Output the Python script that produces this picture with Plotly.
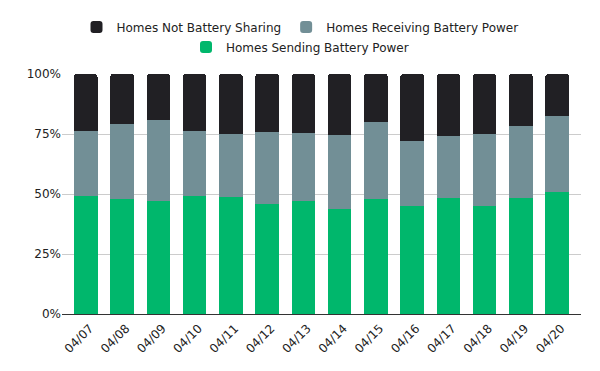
import plotly.graph_objects as go

dates = ["04/07", "04/08", "04/09", "04/10", "04/11", "04/12", "04/13",
         "04/14", "04/15", "04/16", "04/17", "04/18", "04/19", "04/20"]
sending = [49.3, 47.9, 47.1, 49.3, 48.7, 45.8, 47.1, 43.8, 47.9, 45.1, 48.5, 45.1, 48.5, 50.8]
receiving = [27.0, 31.3, 33.7, 27.0, 26.3, 30.0, 28.3, 30.8, 32.1, 27.0, 25.7, 29.9, 29.8, 31.7]
not_sharing = [23.7, 20.8, 19.2, 23.7, 25.0, 24.2, 24.6, 25.4, 20.0, 27.9, 25.8, 25.0, 21.7, 17.5]

fig = go.Figure()
fig.add_trace(go.Bar(x=dates, y=sending, name="Homes Sending Battery Power",
                     marker=dict(color="#00b76c", line=dict(width=0)), legend="legend2"))
fig.add_trace(go.Bar(x=dates, y=receiving, name="Homes Receiving Battery Power",
                     marker=dict(color="#728f96", line=dict(width=0)), legend="legend"))
fig.add_trace(go.Bar(x=dates, y=not_sharing, name="Homes Not Battery Sharing",
                     marker=dict(color="#212024", line=dict(width=0)), legend="legend"))

fig.update_layout(
    width=600, height=371,
    barmode="stack", bargap=0.35, barcornerradius=3,
    margin=dict(l=62, r=19, t=74, b=57, autoexpand=False),
    paper_bgcolor="white", plot_bgcolor="white",
    font=dict(family="DejaVu Sans", size=12, color="#222222"),
    legend=dict(orientation="h", xref="container", x=0.5, xanchor="center",
                yref="container", y=1 - 27 / 371, yanchor="middle",
                traceorder="reversed", font=dict(size=12),
                bgcolor="rgba(0,0,0,0)"),
    legend2=dict(orientation="h", xref="container", x=0.5, xanchor="center",
                 yref="container", y=1 - 47 / 371, yanchor="middle",
                 font=dict(size=12), bgcolor="rgba(0,0,0,0)"),
    showlegend=True,
)
fig.update_xaxes(tickangle=-45, showgrid=False, showline=False, ticks="",
                 range=[-0.656, 13.656], tickfont=dict(size=12),
                 ticklabelshift=4, ticklabelstandoff=4)
fig.update_yaxes(range=[0, 100], tickvals=[0, 25, 50, 75, 100],
                 ticktext=["0%", "25%", "50%", "75%", "100%"],
                 showgrid=True, gridcolor="#cccccc", gridwidth=1,
                 zeroline=True, zerolinecolor="#333333", zerolinewidth=1,
                 tickfont=dict(size=12))
fig.write_html("out.html", config={"displayModeBar": False},
               post_script="document.body.style.margin='0';")
